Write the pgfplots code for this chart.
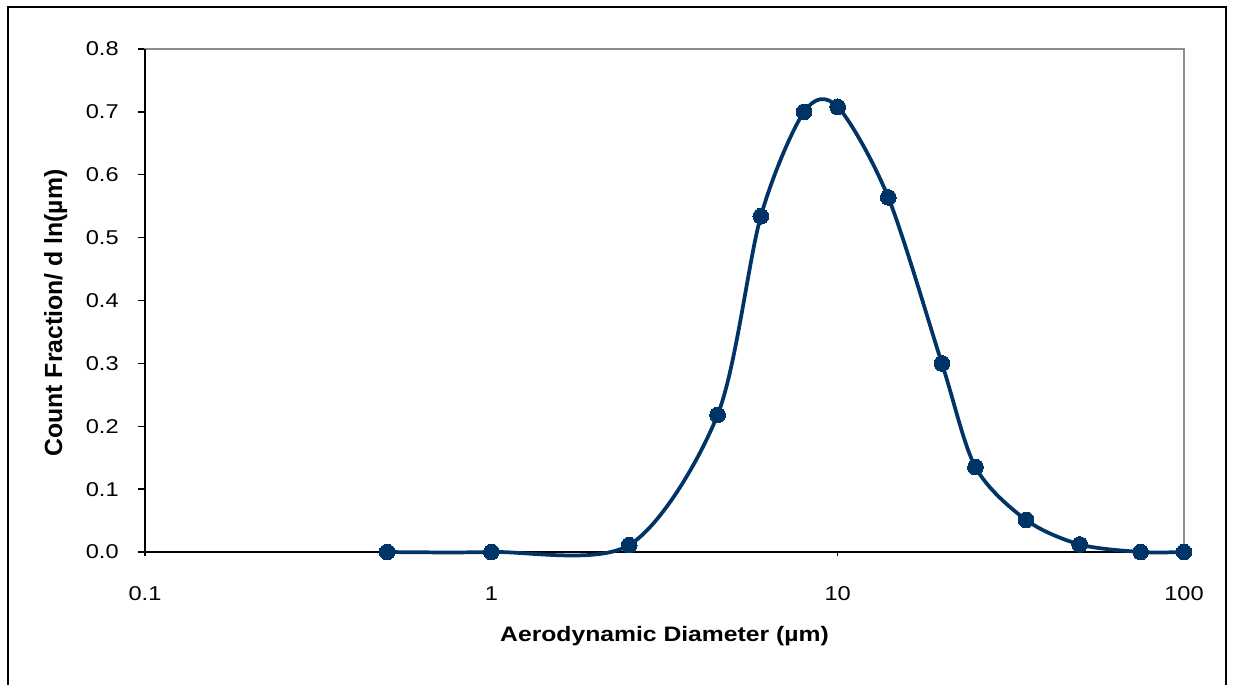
\documentclass[border=0pt]{standalone}
\usepackage{pgfplots}
\pgfplotsset{compat=1.18}
\usepackage{fontspec}
\setmainfont{Liberation Sans}
\newfontfamily\stretchfont[FakeStretch=1.18]{Liberation Sans}
\definecolor{navy}{HTML}{003366}
\definecolor{frame}{HTML}{8C8C8C}
\begin{document}
\begin{tikzpicture}[x=0.75pt,y=0.75pt]
\useasboundingbox (0,0) rectangle (1233,685);
\draw[black, line width=1.5pt] (8,-5) -- (8,678) -- (1226,678) -- (1226,-5);
\begin{axis}[
  at={(108.75pt,99.75pt)}, anchor=south west,
  scale only axis, width=779.25pt, height=377.25pt,
  xmode=log, log basis x=10,
  xmin=0.1, xmax=100, ymin=0, ymax=0.8,
  xtick={0.1,1,10,100}, xticklabels={0.1,1,10,100},
  ytick={0,0.1,0.2,0.3,0.4,0.5,0.6,0.7,0.8},
  yticklabel style={/pgf/number format/fixed, /pgf/number format/fixed zerofill, /pgf/number format/precision=1, /pgf/number format/assume math mode=true},
  ticklabel style={font=\stretchfont\fontsize{15}{18}\selectfont},
  tick align=outside, tick pos=left,
  major tick length=5.25pt, minor tick length=2.5pt,
  xtick style={/pgfplots/major tick length=2.8pt},
  tick style={black, line width=1pt},
  axis line style={draw=frame, line width=1.5pt},
  xticklabel style={yshift=-17pt},
  yticklabel style={xshift=-11pt},
  xlabel={\textbf{Aerodynamic Diameter (µm)}},
  ylabel={\textbf{Count Fraction/ d ln(µm)}},
  xlabel style={font=\stretchfont\fontsize{15.7}{18}\selectfont, at={(axis description cs:0.5,0)}, anchor=center, yshift=-63pt},
  ylabel style={font=\fontsize{18.6}{20}\selectfont, at={(axis description cs:0,0.475)}, anchor=center, yshift=67pt},
  clip=false,
]
\draw[black, line width=2.2pt] (rel axis cs:0,1) -- (rel axis cs:0,0) -- (rel axis cs:1,0);
\addplot[navy, line width=2.8pt, smooth, tension=0.5, mark=*, mark size=5.9pt, mark options={fill=navy, draw=navy, line width=0pt}]
  coordinates {
  (0.5,0.0) (1,0.0) (2.5,0.011) (4.5,0.218) (6,0.534) (8,0.700) (10,0.708)
  (14,0.564) (20,0.300) (25,0.135) (35,0.051) (50,0.012) (75,0.0) (100,0.0)
  };
\end{axis}
\end{tikzpicture}
\end{document}
